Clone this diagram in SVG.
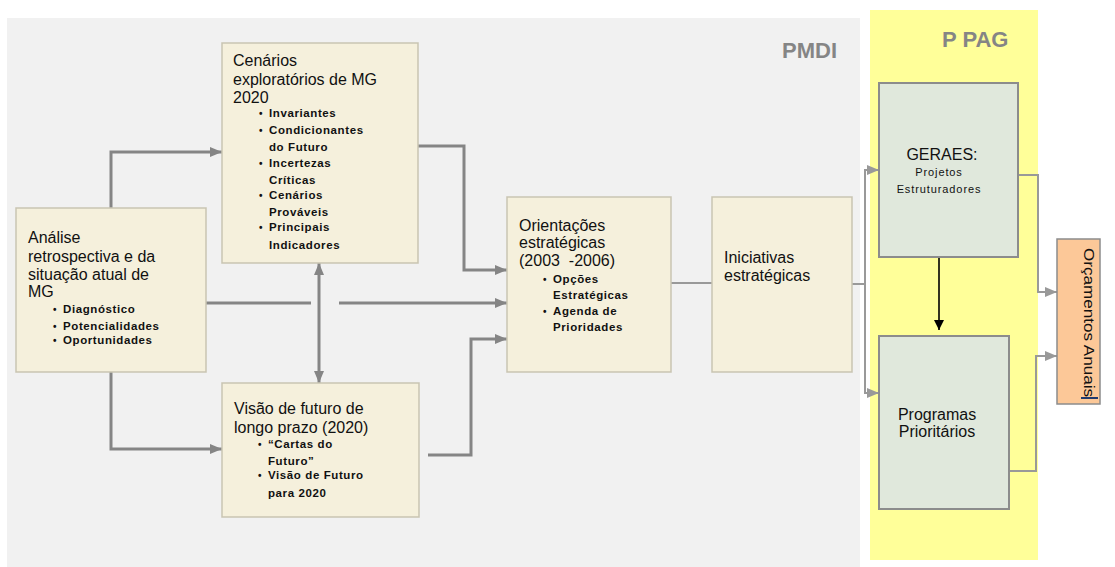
<svg xmlns="http://www.w3.org/2000/svg" width="1115" height="567" viewBox="0 0 1115 567">
<defs>
<style>
.box{fill:#f5f0dc;stroke:#c9c5b2;stroke-width:1.5}
.gbox{fill:#e0e8dc;stroke:#8c8c8c;stroke-width:2}
.t{font-family:"Liberation Sans",Arial,sans-serif;font-size:16px;fill:#111}
.b{font-family:"Liberation Sans",Arial,sans-serif;font-size:11.5px;font-weight:bold;letter-spacing:0.6px;fill:#111}
.dot{font-family:"Liberation Sans",Arial,sans-serif;font-size:10px;font-weight:bold;fill:#111}
.lbl{font-family:"Liberation Sans",Arial,sans-serif;font-size:22px;font-weight:bold;fill:#858585}
.c{fill:none;stroke:#858585;stroke-width:3}
.c2{fill:none;stroke:#999;stroke-width:2}
</style>
<marker id="ag" viewBox="0 0 12 10" refX="12" refY="5" markerWidth="12" markerHeight="10" markerUnits="userSpaceOnUse" orient="auto-start-reverse"><path d="M0,0 L12,5 L0,10 z" fill="#858585"/></marker>
<marker id="as" viewBox="0 0 12 10" refX="12" refY="5" markerWidth="13" markerHeight="10" markerUnits="userSpaceOnUse" orient="auto"><path d="M0,0 L12,5 L0,10 z" fill="#999"/></marker>
<marker id="ab" viewBox="0 0 10 10" refX="10" refY="5" markerWidth="10" markerHeight="10" markerUnits="userSpaceOnUse" orient="auto"><path d="M0,0 L10,5 L0,10 z" fill="#000"/></marker>
</defs>
<rect width="1115" height="567" fill="#fff"/>
<rect x="7" y="18" width="853" height="549" fill="#f1f1f1"/>
<rect x="870" y="10" width="168" height="550" fill="#ffff99"/>
<text class="lbl" x="782" y="58">PMDI</text>
<text class="lbl" x="942" y="47">P PAG</text>

<g id="connectors">
<path class="c" d="M111,208 V152 H222" marker-end="url(#ag)"/>
<path class="c" d="M111,372 V449 H222" marker-end="url(#ag)"/>
<path class="c" d="M206,303 H311"/>
<path class="c" d="M339,303 H507" marker-end="url(#ag)"/>
<path class="c" d="M319,263 V383" marker-start="url(#ag)" marker-end="url(#ag)"/>
<path class="c" d="M418,146 H464 V270 H507" marker-end="url(#ag)"/>
<path class="c" d="M428,455 H471 V339 H507" marker-end="url(#ag)"/>
<path class="c2" d="M671,283 H712"/>
<path class="c2" d="M852,284 H865 V170 H879" marker-end="url(#as)"/>
<path class="c2" d="M865,284 V393 H879" marker-end="url(#as)"/>
<path class="c2" d="M1013,175 H1038 V292 H1057" marker-end="url(#as)"/>
<path class="c2" d="M1009,471 H1036 V356 H1057" marker-end="url(#as)"/>
<path d="M939,255 V330" fill="none" stroke="#000" stroke-width="1.6" marker-end="url(#ab)"/>
</g>

<g id="analise">
<rect class="box" x="16" y="208" width="190" height="164"/>
<text class="t" x="28" y="243">Análise</text>
<text class="t" x="28" y="262">retrospectiva e da</text>
<text class="t" x="28" y="280">situação atual de</text>
<text class="t" x="28" y="297">MG</text>
<text class="dot" x="53" y="313">•</text><text class="b" x="63" y="313">Diagnóstico</text>
<text class="dot" x="53" y="330">•</text><text class="b" x="63" y="330">Potencialidades</text>
<text class="dot" x="53" y="344">•</text><text class="b" x="63" y="344">Oportunidades</text>
</g>

<g id="cenarios">
<rect class="box" x="222" y="43" width="196" height="220"/>
<text class="t" x="233" y="66">Cenários</text>
<text class="t" x="233" y="85">exploratórios de MG</text>
<text class="t" x="233" y="103">2020</text>
<text class="dot" x="259" y="117">•</text><text class="b" x="269" y="117">Invariantes</text>
<text class="dot" x="259" y="134">•</text><text class="b" x="269" y="134">Condicionantes</text>
<text class="b" x="269" y="151">do Futuro</text>
<text class="dot" x="259" y="167">•</text><text class="b" x="269" y="167">Incertezas</text>
<text class="b" x="269" y="184">Críticas</text>
<text class="dot" x="259" y="199">•</text><text class="b" x="269" y="199">Cenários</text>
<text class="b" x="269" y="216">Prováveis</text>
<text class="dot" x="259" y="231">•</text><text class="b" x="269" y="231">Principais</text>
<text class="b" x="269" y="249">Indicadores</text>
</g>

<g id="visao">
<rect class="box" x="222" y="383" width="197" height="134"/>
<text class="t" x="234" y="414">Visão de futuro de</text>
<text class="t" x="234" y="433">longo prazo (2020)</text>
<text class="dot" x="258" y="448">•</text><text class="b" x="268" y="448">“Cartas do</text>
<text class="b" x="268" y="465">Futuro”</text>
<text class="dot" x="258" y="479">•</text><text class="b" x="268" y="479">Visão de Futuro</text>
<text class="b" x="268" y="497">para 2020</text>
</g>

<g id="orientacoes">
<rect class="box" x="507" y="197" width="164" height="175"/>
<text class="t" x="519" y="231">Orientações</text>
<text class="t" x="519" y="248">estratégicas</text>
<text class="t" x="519" y="266">(2003 &#160;-2006)</text>
<text class="dot" x="543" y="283">•</text><text class="b" x="553" y="283">Opções</text>
<text class="b" x="553" y="299">Estratégicas</text>
<text class="dot" x="543" y="315">•</text><text class="b" x="553" y="315">Agenda de</text>
<text class="b" x="553" y="331">Prioridades</text>
</g>

<g id="iniciativas">
<rect class="box" x="712" y="197" width="140" height="175"/>
<text class="t" x="724" y="263">Iniciativas</text>
<text class="t" x="724" y="281">estratégicas</text>
</g>

<g id="geraes">
<rect class="gbox" x="879" y="83" width="139" height="174"/>
<text class="t" x="942" y="160" text-anchor="middle" style="font-size:16px">GERAES:</text>
<text class="t" x="939" y="176" text-anchor="middle" style="font-size:11px;letter-spacing:0.9px">Projetos</text>
<text class="t" x="939" y="193" text-anchor="middle" style="font-size:11px;letter-spacing:0.9px">Estruturadores</text>
</g>

<g id="programas">
<rect class="gbox" x="879" y="336" width="130" height="173"/>
<text class="t" x="937" y="420" text-anchor="middle">Programas</text>
<text class="t" x="937" y="437" text-anchor="middle">Prioritários</text>
</g>

<g id="orcamentos">
<rect x="1057" y="239" width="43" height="165" fill="#fcc898" stroke="#8c8c8c" stroke-width="1.5"/>
<text class="t" transform="translate(1084,248) rotate(90)" style="font-size:15px" textLength="149" lengthAdjust="spacingAndGlyphs">Orçamentos Anuais</text>
<line x1="1081" y1="398" x2="1098" y2="398" stroke="#1f3a6e" stroke-width="2"/>
</g>
</svg>
